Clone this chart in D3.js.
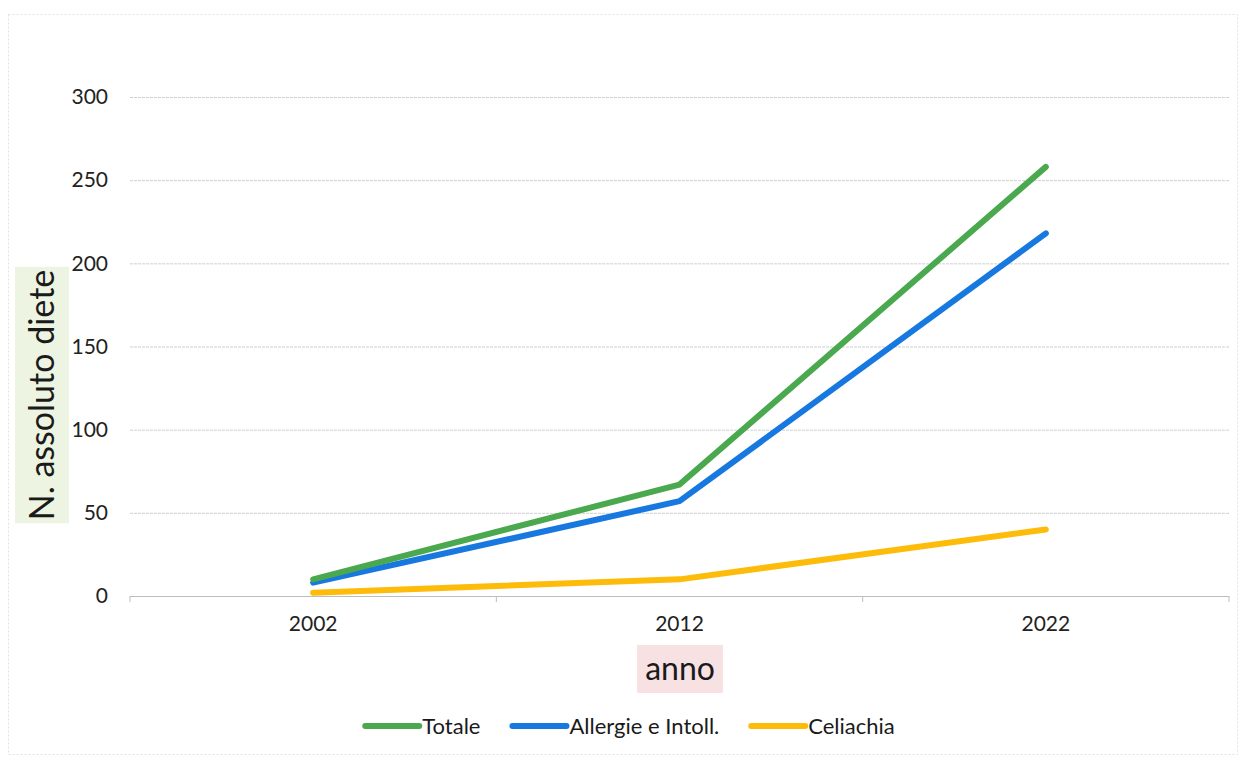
<!DOCTYPE html>
<html><head><meta charset="utf-8">
<script src="https://cdn.jsdelivr.net/npm/d3@7"></script>
<style>html,body{margin:0;padding:0;background:#fff;}svg{display:block;}</style>
</head><body>
<svg id="chart" width="1241" height="760"></svg>
<script>
const years = ["2002", "2012", "2022"];
const totale = [10, 67, 258];
const allergie = [8, 57, 218];
const celiachia = [2, 10, 40];
const yTicks = [0, 50, 100, 150, 200, 250, 300];
const seriesNames = ["Totale", "Allergie e Intoll.", "Celiachia"];
const seriesColors = ["#4aa84e", "#1778e0", "#fdbb0a"];

const svg = d3.select("#chart");
const font = "Lato, 'Open Sans', sans-serif";

// frame
svg.append("rect").attr("x", 8.5).attr("y", 14.5).attr("width", 1229).attr("height", 740)
  .attr("fill", "none").attr("stroke", "#e2e2e2").attr("stroke-dasharray", "2,2");

const x = d3.scaleBand().domain(years).range([130, 1229]).paddingInner(0).paddingOuter(0);
const y = d3.scaleLinear().domain([0, 300]).range([596, 97]);

// grid
svg.append("g").selectAll("line").data(yTicks.filter(d => d > 0)).join("line")
  .attr("x1", 130).attr("x2", 1229)
  .attr("y1", d => y(d) + 0.5).attr("y2", d => y(d) + 0.5)
  .attr("stroke", "#cfcfcf").attr("stroke-width", 1).attr("stroke-dasharray", "3,1");

// y axis labels
const yAxis = d3.axisLeft(y).tickValues(yTicks).tickSize(0).tickPadding(22);
const gy = svg.append("g").attr("transform", "translate(130,0)").call(yAxis);
gy.select(".domain").remove();
gy.selectAll("text").attr("font-family", font).attr("font-size", 21).attr("fill", "#222");

// x axis
const xAxis = d3.axisBottom(x).tickSize(0).tickPadding(20);
const gx = svg.append("g").attr("transform", "translate(0,596)").call(xAxis);
gx.select(".domain").attr("stroke", "#bdbdbd").attr("d", "M130,0.5H1229");
gx.selectAll("text").attr("font-family", font).attr("font-size", 21).attr("fill", "#222");
// category boundary ticks
const bounds = years.map(d => x(d)).concat([x(years[years.length - 1]) + x.bandwidth()]);
gx.append("g").selectAll("line").data(bounds).join("line")
  .attr("x1", d => d).attr("x2", d => d).attr("y1", 0).attr("y2", 6)
  .attr("stroke", "#bdbdbd");

// lines
const data = [totale, allergie, celiachia];
const line = d3.line().x((d, i) => x(years[i]) + x.bandwidth() / 2).y(d => y(d));
const order = [2, 1, 0];
order.forEach(k => {
  svg.append("path").datum(data[k]).attr("d", line)
    .attr("fill", "none").attr("stroke", seriesColors[k]).attr("stroke-width", 6)
    .attr("stroke-linecap", "round").attr("stroke-linejoin", "round");
});

// y axis title
const yt = svg.append("g").attr("transform", "translate(42,395) rotate(-90)");
const ytText = yt.append("text").attr("text-anchor", "middle").attr("dy", "0.35em")
  .attr("font-family", font).attr("font-size", 34).attr("fill", "#1a1a1a").text("N. assoluto diete");
const yb = ytText.node().getBBox();
yt.insert("rect", "text").attr("x", yb.x - 3).attr("y", -27).attr("width", yb.width + 6).attr("height", 54)
  .attr("fill", "#eef4e2");

// x axis title
const xt = svg.append("g").attr("transform", "translate(680,669)");
const xtText = xt.append("text").attr("text-anchor", "middle").attr("dy", "0.35em")
  .attr("font-family", font).attr("font-size", 32).attr("fill", "#1a1a1a").text("anno");
const xb = xtText.node().getBBox();
xt.insert("rect", "text").attr("x", xb.x - 8).attr("y", -24).attr("width", xb.width + 16).attr("height", 48)
  .attr("fill", "#f8e1e2");

// legend
const lg = svg.append("g").attr("transform", "translate(0,726)");
const lineLen = 54, gapText = 3, itemGap = 32;
const items = seriesNames.map((n, i) => {
  const g = lg.append("g");
  g.append("line").attr("x1", 0).attr("x2", lineLen).attr("y1", 0).attr("y2", 0)
    .attr("stroke", seriesColors[i]).attr("stroke-width", 6).attr("stroke-linecap", "round");
  const t = g.append("text").attr("x", lineLen + gapText).attr("dy", "0.35em")
    .attr("font-family", font).attr("font-size", 22).attr("fill", "#1a1a1a").text(n);
  return { g, w: lineLen + gapText + t.node().getComputedTextLength() };
});
const total = d3.sum(items, d => d.w) + itemGap * (items.length - 1);
let cx = 630 - total / 2;
items.forEach(it => { it.g.attr("transform", `translate(${cx},0)`); cx += it.w + itemGap; });
</script>
</body></html>
